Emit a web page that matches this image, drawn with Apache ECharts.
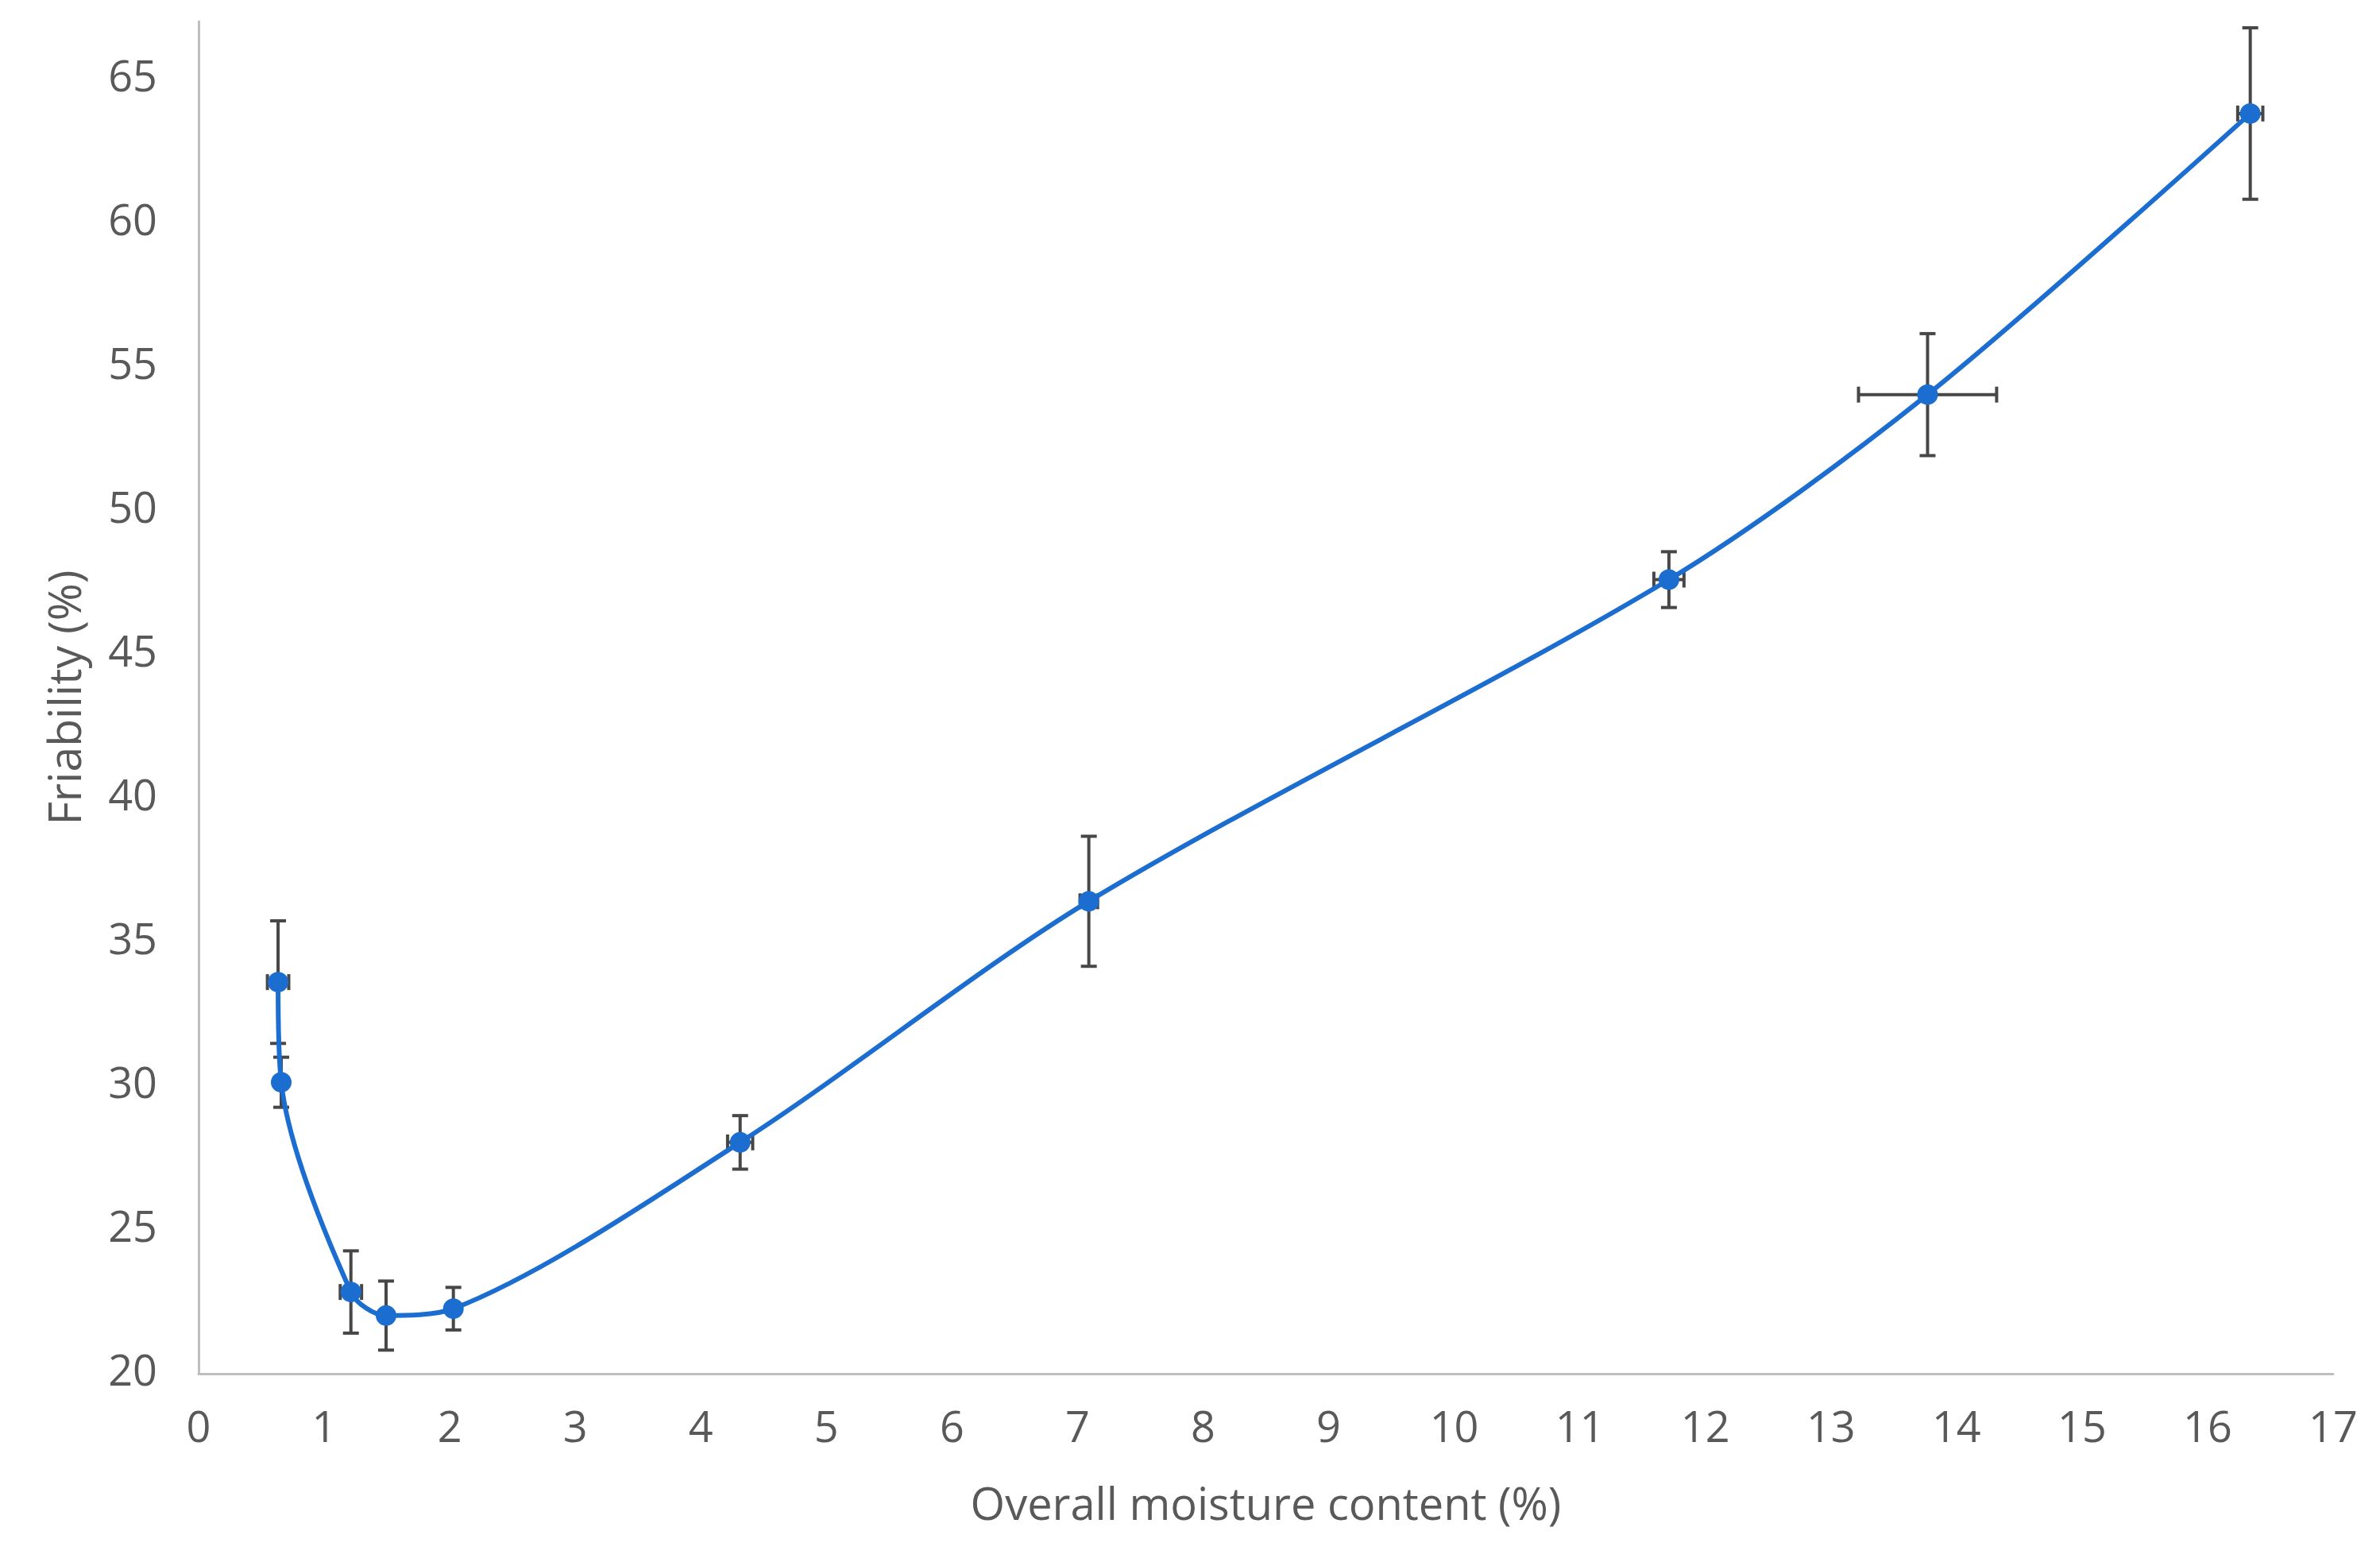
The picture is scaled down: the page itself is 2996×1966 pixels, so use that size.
<!DOCTYPE html>
<html>
<head>
<meta charset="utf-8">
<title>Friability vs moisture</title>
<script src="https://cdn.jsdelivr.net/npm/echarts@6/dist/echarts.min.js"></script>
<style>
  html, body { margin: 0; padding: 0; background: #ffffff; }
  #chart { width: 2996px; height: 1966px; }
</style>
</head>
<body>
<div id="chart"></div>
<script>
// data
var moisture      = [0.633, 0.658, 1.213, 1.493, 2.029, 4.313, 7.09, 11.71, 13.77, 16.34];
var friability    = [33.61, 30.13, 22.84, 22.02, 22.26, 28.04, 36.42, 47.60, 54.03, 63.80];
var friabilityErr = [2.13, 0.87, 1.43, 1.20, 0.74, 0.93, 2.26, 0.97, 2.12, 2.98];
var moistureErr   = [0.085, 0, 0.085, 0, 0, 0.10, 0.07, 0.12, 0.55, 0.10];

var xTitle = 'Overall moisture content (%)';
var yTitle = 'Friability (%)';

var textColor = '#595959';
var axisColor = '#BFBFBF';
var lineColor = '#1C6DD0';
var errColor = '#474747';
var fontFam = '"Open Sans", "Noto Sans", sans-serif';

var points = [];
var errRows = [];
for (var i = 0; i < moisture.length; i++) {
    points.push([moisture[i], friability[i]]);
    errRows.push([moisture[i], friability[i], moistureErr[i], friabilityErr[i]]);
}

// draws x and y error bars around each point
function errorBars(params, api) {
    var x = api.value(0), y = api.value(1);
    var ex = api.value(2), ey = api.value(3);
    var cap = 10;
    var st = { stroke: errColor, lineWidth: 4 };
    var kids = [];
    var top = api.coord([x, y + ey]);
    var bot = api.coord([x, y - ey]);
    kids.push({ type: 'line', shape: { x1: top[0], y1: top[1], x2: bot[0], y2: bot[1] }, style: st });
    kids.push({ type: 'line', shape: { x1: top[0] - cap, y1: top[1], x2: top[0] + cap, y2: top[1] }, style: st });
    kids.push({ type: 'line', shape: { x1: bot[0] - cap, y1: bot[1], x2: bot[0] + cap, y2: bot[1] }, style: st });
    if (ex > 0) {
        var lft = api.coord([x - ex, y]);
        var rgt = api.coord([x + ex, y]);
        kids.push({ type: 'line', shape: { x1: lft[0], y1: lft[1], x2: rgt[0], y2: rgt[1] }, style: st });
        kids.push({ type: 'line', shape: { x1: lft[0], y1: lft[1] - cap, x2: lft[0], y2: lft[1] + cap }, style: st });
        kids.push({ type: 'line', shape: { x1: rgt[0], y1: rgt[1] - cap, x2: rgt[0], y2: rgt[1] + cap }, style: st });
    }
    return { type: 'group', children: kids };
}

var chart = echarts.init(document.getElementById('chart'));
chart.setOption({
    animation: false,
    backgroundColor: '#ffffff',
    grid: { left: 250, right: 59, top: 27, bottom: 237 },
    xAxis: {
        type: 'value',
        min: 0, max: 17, interval: 1,
        name: xTitle,
        nameLocation: 'middle',
        nameGap: 140,
        nameTextStyle: { color: textColor, fontSize: 56, fontFamily: fontFam },
        axisLine: { show: true, onZero: false, lineStyle: { color: axisColor, width: 3 } },
        axisTick: { show: false },
        splitLine: { show: false },
        axisLabel: { color: textColor, fontSize: 54, fontFamily: fontFam, margin: 44 }
    },
    yAxis: {
        type: 'value',
        min: 20, max: 67, interval: 5,
        name: yTitle,
        nameLocation: 'middle',
        nameGap: 136,
        nameTextStyle: { color: textColor, fontSize: 57, fontFamily: fontFam },
        axisLine: { show: true, onZero: false, lineStyle: { color: axisColor, width: 3 } },
        axisTick: { show: false },
        splitLine: { show: false },
        axisLabel: { color: textColor, fontSize: 54, fontFamily: fontFam, margin: 52, showMaxLabel: false }
    },
    series: [
        {
            type: 'custom',
            renderItem: errorBars,
            data: errRows,
            z: 1,
            silent: true
        },
        {
            type: 'line',
            data: points,
            smooth: 0.3,
            symbol: 'circle',
            symbolSize: 26,
            z: 2,
            lineStyle: { color: lineColor, width: 6 },
            itemStyle: { color: lineColor }
        }
    ]
});
</script>
</body>
</html>
